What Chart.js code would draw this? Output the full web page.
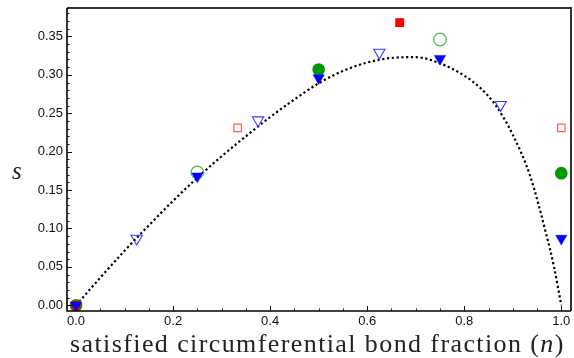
<!DOCTYPE html>
<html>
<head>
<meta charset="utf-8">
<script src="https://cdn.jsdelivr.net/npm/chart.js@4/dist/chart.umd.min.js"></script>
<style>
  html, body { margin: 0; padding: 0; background: #fff; }
  #wrap { position: relative; width: 574px; height: 358px; }
  #chart { position: absolute; left: 0; top: 0; }
  .ttl { position: absolute; font-family: "Liberation Serif", "DejaVu Serif", serif; color: #222; white-space: nowrap; }
  #xTitle { left: 70px; top: 329px; font-size: 26px; letter-spacing: 1.4px; }
  #yTitle { left: 12px; top: 157px; font-size: 25px; font-style: italic; }
</style>
</head>
<body>
<div id="wrap">
  <canvas id="chart" width="574" height="358"></canvas>
  <div id="xTitle" class="ttl">satisfied circumferential bond fraction (<i>n</i>)</div>
  <div id="yTitle" class="ttl">s</div>
</div>
<script>
// dotted guide curve
const curveN = [0, 0.05, 0.1, 0.15, 0.2, 0.25, 0.3, 0.35, 0.4, 0.45, 0.5, 0.55, 0.6, 0.65, 0.7, 0.75, 0.8, 0.833, 0.864, 0.9, 0.936, 0.97, 0.985, 1.0];
const curveS = [0, 0.036, 0.071, 0.104, 0.136, 0.166, 0.194, 0.220, 0.245, 0.268, 0.289, 0.305, 0.316, 0.322, 0.323, 0.315, 0.299, 0.283, 0.261, 0.222, 0.168, 0.09, 0.05, 0];

// marker series
const blueFillN = [0, 0.25, 0.5, 0.75, 1.0];
const blueFillS = [0.0, 0.168, 0.296, 0.321, 0.087];
const blueOpenN = [0.125, 0.375, 0.625, 0.875];
const blueOpenS = [0.087, 0.241, 0.329, 0.261];
const greenFillN = [0, 0.5, 1.0];
const greenFillS = [0.0, 0.307, 0.172];
const greenOpenN = [0.25, 0.75];
const greenOpenS = [0.173, 0.346];
const redFillN = [0, 0.667];
const redFillS = [0.0, 0.368];
const redOpenN = [0.333, 1.0];
const redOpenS = [0.231, 0.231];

const xTicks = [0, 0.2, 0.4, 0.6, 0.8, 1.0];
const yTicks = [0, 0.05, 0.1, 0.15, 0.2, 0.25, 0.3, 0.35];

const pts = (xs, ys) => xs.map((x, i) => ({ x: x, y: ys[i] }));

// inward major/minor ticks plus frame, Mathematica style
const frameTicks = {
  id: 'frameTicks',
  afterDatasetsDraw(chart) {
    const { ctx, chartArea: a, scales: { x, y } } = chart;
    ctx.save();
    ctx.strokeStyle = '#111';
    ctx.lineWidth = 1;
    for (let k = 0; k <= 20; k++) {
      const v = k * 0.05;
      const px = Math.round(x.getPixelForValue(v)) + 0.5;
      const len = (k % 4 === 0) ? 5 : 2.5;
      ctx.beginPath(); ctx.moveTo(px, a.bottom); ctx.lineTo(px, a.bottom - len); ctx.stroke();
    }
    for (let k = 0; k <= 38; k++) {
      const v = k * 0.01;
      const py = Math.round(y.getPixelForValue(v)) + 0.5;
      const len = (k % 5 === 0) ? 5 : 2.5;
      ctx.beginPath(); ctx.moveTo(a.left, py); ctx.lineTo(a.left + len, py); ctx.stroke();
    }
    // top and right frame
    ctx.strokeStyle = '#333';
    ctx.lineWidth = 2;
    ctx.beginPath();
    ctx.moveTo(a.left, a.top); ctx.lineTo(a.right, a.top); ctx.lineTo(a.right, a.bottom);
    ctx.stroke();
    // left and bottom axis
    ctx.strokeStyle = '#000';
    ctx.lineWidth = 1.6;
    ctx.beginPath();
    ctx.moveTo(a.left, a.top); ctx.lineTo(a.left, a.bottom); ctx.lineTo(a.right, a.bottom);
    ctx.stroke();
    ctx.restore();
  }
};

new Chart(document.getElementById('chart'), {
  type: 'scatter',
  data: {
    datasets: [
      { label: 'blue filled', data: pts(blueFillN, blueFillS), pointStyle: 'triangle', rotation: 180,
        pointRadius: 6.5, backgroundColor: '#0000ff', borderColor: '#0000ff', borderWidth: 0.5 },
      { label: 'blue open', data: pts(blueOpenN, blueOpenS), pointStyle: 'triangle', rotation: 180,
        pointRadius: 6.5, backgroundColor: 'rgba(255,255,255,0)', borderColor: '#3a3aff', borderWidth: 1.1 },
      { label: 'red filled', data: pts(redFillN, redFillS), pointStyle: 'rect',
        pointRadius: 6.3, backgroundColor: '#ff0000', borderColor: '#ff0000', borderWidth: 0 },
      { label: 'red open', data: pts(redOpenN, redOpenS), pointStyle: 'rect',
        pointRadius: 5.3, backgroundColor: 'rgba(255,255,255,0)', borderColor: '#ff5a5a', borderWidth: 1.2 },
      { label: 'green open', data: pts(greenOpenN, greenOpenS), pointStyle: 'circle',
        pointRadius: 6.3, backgroundColor: 'rgba(255,255,255,0)', borderColor: '#4cbb4c', borderWidth: 1.2 },
      { label: 'green filled', data: pts(greenFillN, greenFillS), pointStyle: 'circle',
        pointRadius: 6.3, backgroundColor: '#009a00', borderColor: '#009a00', borderWidth: 0 },
      { label: 'curve', type: 'line', data: pts(curveN, curveS), showLine: true,
        borderColor: '#000', borderWidth: 2.2, borderDash: [2.2, 2.6], pointRadius: 0,
        cubicInterpolationMode: 'monotone', fill: false }
    ]
  },
  options: {
    responsive: false,
    animation: false,
    events: [],
    layout: { autoPadding: false, padding: { left: 0, right: 3, top: 8, bottom: 0 } },
    plugins: { legend: { display: false }, tooltip: { enabled: false } },
    scales: {
      x: {
        type: 'linear', min: -0.0186, max: 1.02,
        grid: { display: false, drawTicks: false },
        border: { display: false },
        afterBuildTicks: s => { s.ticks = xTicks.map(v => ({ value: v })); },
        afterFit: s => { s.height = 47; s.paddingLeft = 0; s.paddingRight = 0; },
        ticks: { padding: 3, color: '#111', font: { family: 'Liberation Sans', size: 13 },
                 maxRotation: 0, callback: v => v.toFixed(1) }
      },
      y: {
        type: 'linear', min: -0.0074, max: 0.387,
        grid: { display: false, drawTicks: false },
        border: { display: false },
        afterBuildTicks: s => { s.ticks = yTicks.map(v => ({ value: v })); },
        afterFit: s => { s.width = 67; s.paddingTop = 0; s.paddingBottom = 0; },
        ticks: { padding: 4, color: '#111', font: { family: 'Liberation Sans', size: 13 },
                 callback: v => v.toFixed(2) }
      }
    }
  },
  plugins: [frameTicks]
});
</script>
</body>
</html>
